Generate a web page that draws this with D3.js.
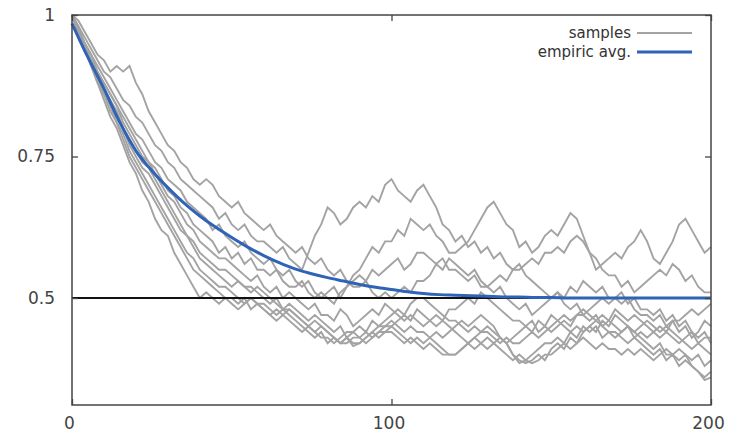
<!DOCTYPE html>
<html>
<head>
<meta charset="UTF-8">
<style>
body { margin: 0; background: #fff; }
svg { display: block; font-family: "DejaVu Sans", sans-serif; }
</style>
</head>
<body>
<svg></svg>
<script src="https://d3js.org/d3.v7.min.js"></script>
<script>

let width = 737, height = 435;

// x positions of the sample paths (every 2 steps) and of the average curve
let sampleX = d3.range(0, 201, 2);
let avgX = d3.range(0, 201, 5);

let xTicks = [0, 100, 200];
let yTicks = [0.5, 0.75, 1];

// sample paths, every 2 steps
let sampleA = [1,.99,.97,.95,.93, .92,.90,.91,.90,.91, .88,.86,.83,.81,.79, .77,.76,.74,.73,.71,
  .70,.71,.70,.68,.67, .66,.67,.65,.64,.63, .62,.63,.61,.60,.59, .58,.59,.57,.56,.57,
  .55,.54,.55,.53,.52, .52,.53,.51,.50,.51, .50,.51,.52,.51,.53, .53,.54,.56,.55,.57,
  .56,.55,.54,.55,.53, .52,.51,.52,.50,.49, .48,.49,.47,.48,.49, .50,.51,.50,.52,.51,
  .53,.52,.51,.52,.50, .50,.49,.50,.48,.47, .47,.46,.47,.45,.46, .44,.45,.43,.44,.46, .45];
let sampleB = [1,.98,.96,.94,.92, .90,.89,.87,.85,.84, .82,.81,.79,.77,.76, .74,.73,.71,.70,.69,
  .68,.67,.66,.64,.65, .63,.62,.63,.61,.60, .60,.59,.58,.59,.57, .56,.55,.58,.61,.63,
  .66,.65,.63,.64,.66, .67,.66,.68,.67,.70, .71,.69,.68,.67,.69, .70,.68,.66,.63,.62,
  .60,.61,.59,.60,.58, .59,.57,.58,.56,.55, .56,.54,.53,.52,.51, .50,.51,.49,.48,.49,
  .47,.48,.49,.50,.49, .50,.51,.49,.50,.48, .48,.47,.48,.46,.47, .45,.46,.44,.43,.44, .42];
let sampleC = [1,.98,.95,.93,.91, .89,.87,.85,.83,.81, .79,.78,.76,.74,.73, .71,.70,.69,.67,.66,
  .65,.64,.62,.63,.61, .60,.59,.60,.58,.57, .56,.57,.55,.54,.55, .53,.52,.53,.51,.50,
  .51,.52,.50,.52,.54, .55,.57,.59,.58,.60, .60,.62,.61,.64,.63, .62,.63,.61,.60,.58,
  .58,.59,.60,.62,.64, .66,.67,.65,.63,.62, .59,.60,.58,.59,.61, .62,.61,.63,.65,.64,
  .61,.58,.55,.56,.57, .58,.57,.59,.60,.62, .60,.57,.56,.58,.60, .63,.64,.62,.60,.58, .59];
let sampleD = [1,.97,.95,.93,.90, .88,.86,.84,.82,.80, .78,.76,.74,.73,.71, .69,.68,.66,.65,.63,
  .62,.61,.60,.58,.59, .57,.58,.56,.57,.55, .55,.54,.55,.53,.52, .52,.53,.51,.50,.51,
  .50,.49,.51,.52,.53, .54,.53,.55,.54,.55, .56,.57,.55,.56,.58, .58,.57,.56,.57,.55,
  .55,.54,.53,.54,.52, .52,.53,.54,.53,.55, .55,.56,.57,.56,.58, .58,.59,.58,.60,.61,
  .60,.58,.57,.55,.54, .54,.52,.53,.51,.52, .53,.54,.55,.54,.56, .55,.53,.54,.52,.51, .51];
let sampleE = [1,.97,.95,.92,.90, .88,.86,.84,.81,.79, .77,.75,.74,.72,.70, .68,.67,.65,.63,.62,
  .60,.59,.58,.57,.57, .56,.55,.54,.53,.54, .52,.51,.52,.50,.51, .50,.49,.48,.49,.47,
  .47,.46,.48,.47,.45, .46,.47,.48,.47,.49, .48,.47,.46,.47,.46, .45,.46,.47,.46,.48,
  .48,.49,.50,.49,.51, .50,.49,.48,.47,.46, .46,.45,.46,.44,.45, .44,.45,.46,.45,.47,
  .47,.46,.47,.45,.46, .45,.44,.45,.43,.44, .43,.44,.45,.44,.46, .46,.47,.48,.47,.48, .49];
let sampleF = [1,.97,.94,.92,.89, .87,.85,.83,.80,.78, .76,.74,.73,.71,.69, .67,.65,.63,.61,.60,
  .58,.57,.56,.55,.55, .54,.53,.52,.52,.51, .50,.49,.50,.48,.49, .48,.47,.46,.47,.46,
  .45,.44,.45,.43,.44, .43,.42,.43,.44,.45, .45,.46,.47,.46,.48, .47,.46,.45,.46,.45,
  .44,.43,.42,.43,.42, .41,.42,.43,.42,.43, .44,.45,.44,.46,.45, .47,.46,.45,.44,.45,
  .44,.45,.46,.47,.46, .48,.47,.46,.47,.46, .45,.44,.43,.44,.43, .42,.43,.44,.42,.43, .43];
let sampleG = [1,.97,.94,.92,.89, .87,.84,.82,.80,.77, .75,.73,.72,.70,.68, .66,.64,.62,.61,.59,
  .57,.56,.55,.54,.53, .52,.53,.52,.51,.52, .51,.50,.49,.48,.48, .47,.46,.45,.46,.45,
  .44,.43,.42,.43,.42, .42,.43,.44,.45,.45, .46,.45,.44,.45,.44, .44,.43,.42,.41,.40,
  .40,.41,.42,.41,.42, .43,.42,.41,.40,.39, .40,.39,.40,.41,.42, .42,.43,.42,.44,.43,
  .45,.44,.45,.43,.44, .43,.44,.45,.44,.45, .46,.45,.44,.45,.44, .43,.42,.41,.42,.41, .40];
let sampleH = [1,.97,.94,.91,.89, .86,.84,.81,.79,.76, .74,.72,.70,.68,.66, .64,.62,.60,.58,.57,
  .55,.54,.53,.52,.52, .51,.50,.49,.50,.49, .48,.47,.48,.47,.48, .47,.46,.45,.44,.45,
  .44,.43,.42,.42,.43, .43,.44,.43,.44,.44, .45,.44,.43,.42,.43, .42,.43,.44,.43,.44,
  .45,.46,.45,.46,.47, .46,.45,.43,.42,.40, .39,.385,.39,.40,.39, .41,.42,.41,.43,.42,
  .44,.45,.44,.46,.45, .47,.46,.45,.44,.43, .42,.41,.42,.40,.40, .39,.40,.38,.37,.36, .37];
let sampleI = [1,.97,.94,.91,.88, .86,.83,.81,.78,.75, .73,.71,.69,.67,.65, .63,.61,.59,.57,.55,
  .54,.53,.52,.51,.50, .50,.49,.50,.48,.49, .48,.47,.46,.47,.46, .45,.44,.45,.44,.43,
  .43,.42,.43,.44,.44, .45,.44,.46,.45,.46, .47,.48,.47,.49,.50, .50,.49,.48,.47,.46,
  .46,.45,.44,.45,.44, .44,.43,.42,.43,.42, .42,.43,.44,.43,.44, .45,.46,.47,.46,.47,
  .48,.47,.46,.45,.44, .44,.43,.42,.43,.42, .41,.40,.41,.39,.40, .38,.39,.38,.37,.355, .36];
let sampleJ = [1,.97,.94,.91,.88, .85,.82,.80,.77,.74, .72,.69,.67,.64,.62, .61,.58,.56,.54,.52,
  .50,.51,.50,.49,.50, .49,.48,.49,.50,.49, .49,.48,.47,.48,.47, .46,.45,.44,.43,.44,
  .42,.43,.42,.43,.415, .42,.43,.44,.43,.44, .44,.43,.42,.43,.42, .41,.42,.41,.40,.40,
  .40,.41,.42,.43,.44, .45,.44,.43,.42,.40, .385,.39,.385,.39,.40, .40,.41,.42,.41,.42,
  .43,.42,.41,.42,.41, .41,.40,.41,.40,.41, .40,.39,.40,.41,.40, .41,.40,.39,.40,.38, .39];

let samples = [sampleA, sampleB, sampleC, sampleD, sampleE, sampleF, sampleG, sampleH, sampleI, sampleJ];

// empiric average, read every 5 steps
let avgY = [.985,.925,.87,.81,.76,.725,.695,.668,.645,.625,
  .607,.59,.575,.562,.551,.543,.536,.53,.524,.519,
  .515,.511,.508,.506,.505,.504,.503,.502,.502,.501,
  .501,.5,.5,.5,.5,.5,.5,.5,.5,.5,.5];

let refLevel = 0.5;

let svg = d3.select("svg")
    .attr("width", width)
    .attr("height", height);

let x = d3.scaleLinear().domain([0, 200]).range([72, 711]);
let y = d3.scaleLinear().domain([0.311, 1]).range([405, 15]);

let sampleLine = d3.line()
    .x((d, i) => x(sampleX[i]))
    .y(d => y(d));

svg.append("g")
    .attr("id", "samples")
    .selectAll("path")
    .data(samples)
    .enter()
    .append("path")
    .attr("d", sampleLine)
    .attr("fill", "none")
    .attr("stroke", "#a3a3a3")
    .attr("stroke-width", 1.9)
    .attr("stroke-linejoin", "miter");

// 0.5 reference line
svg.append("line")
    .attr("x1", x(0)).attr("x2", x(200))
    .attr("y1", y(refLevel)).attr("y2", y(refLevel))
    .attr("stroke", "#111")
    .attr("stroke-width", 2);

let avgLine = d3.line()
    .x((d, i) => x(avgX[i]))
    .y(d => y(d))
    .curve(d3.curveMonotoneX);

svg.append("path")
    .datum(avgY)
    .attr("d", avgLine)
    .attr("fill", "none")
    .attr("stroke", "#2f63b8")
    .attr("stroke-width", 3);

// axes with inward ticks, mirrored
function styleAxis(g) {
  g.select(".domain").remove();
  g.selectAll(".tick line").attr("stroke", "#444").attr("stroke-width", 1.3);
  g.selectAll(".tick text").attr("fill", "#444").style("font-size", "17px")
    .style("font-family", "DejaVu Sans, sans-serif");
}

svg.append("g")
    .attr("transform", "translate(0,405)")
    .call(d3.axisBottom(x).tickValues(xTicks).tickSize(-6).tickPadding(12))
    .call(styleAxis)
    .selectAll(".tick text").attr("x", -3);

svg.append("g")
    .attr("transform", "translate(0,15)")
    .call(d3.axisTop(x).tickValues(xTicks).tickSize(-6).tickFormat(""))
    .call(styleAxis);

svg.append("g")
    .attr("transform", "translate(72,0)")
    .call(d3.axisLeft(y).tickValues(yTicks).tickSize(-6).tickPadding(17).tickFormat(d => d))
    .call(styleAxis);

svg.append("g")
    .attr("transform", "translate(711,0)")
    .call(d3.axisRight(y).tickValues(yTicks).tickSize(-6).tickFormat(""))
    .call(styleAxis);

// border
svg.append("rect")
    .attr("x", 72).attr("y", 15)
    .attr("width", 711 - 72).attr("height", 405 - 15)
    .attr("fill", "none")
    .attr("stroke", "#444")
    .attr("stroke-width", 1.5);

// legend
let legendItems = [
  {label: "samples", color: "#a3a3a3", w: 1.9},
  {label: "empiric avg.", color: "#2f63b8", w: 3}
];

let legend = svg.append("g").selectAll("g")
    .data(legendItems)
    .enter()
    .append("g")
    .attr("transform", (d, i) => "translate(0," + (33 + i * 19) + ")");

legend.append("text")
    .attr("x", 631)
    .attr("dy", "0.35em")
    .attr("text-anchor", "end")
    .attr("fill", "#333")
    .style("font-size", "15px")
    .text(d => d.label);

legend.append("line")
    .attr("x1", 637).attr("x2", 692)
    .attr("stroke", d => d.color)
    .attr("stroke-width", d => d.w);

</script>
</body>
</html>
